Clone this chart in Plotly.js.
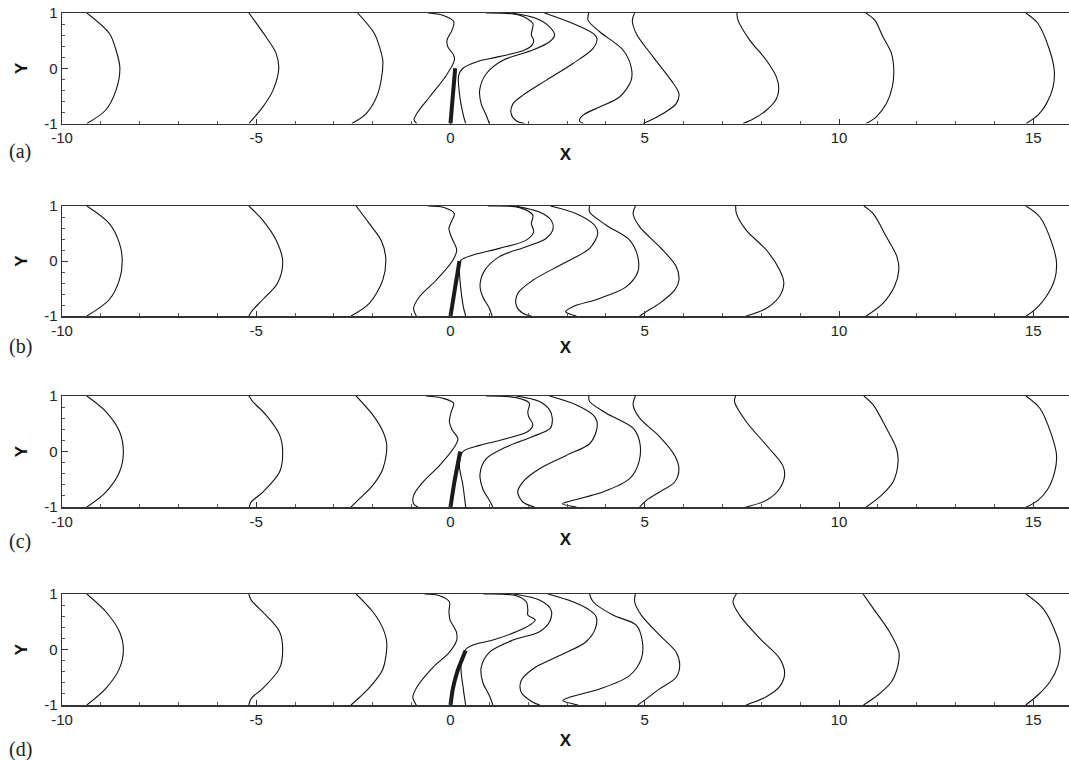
<!DOCTYPE html>
<html>
<head>
<meta charset="utf-8">
<script src="https://cdn.plot.ly/plotly-3.0.1.min.js"></script>
<style>html,body{margin:0;padding:0;background:#fff;}#chart{width:1069px;height:760px;}</style>
</head>
<body>
<div id="chart"></div>
<script>
// ---------- data ----------
const panelLabels = ["(a)", "(b)", "(c)", "(d)"];
const xTickVals = [-10, -5, 0, 5, 10, 15];
const yTickVals = [-1, 0, 1];

// Panel (a) curves
const a_x = [
  [-9.36,-8.78,-8.61,-8.51,-8.61,-8.88,-9.36],
  [-5.19,-4.75,-4.49,-4.42,-4.57,-4.83,-5.19],
  [-2.39,-1.96,-1.83,-1.74,-1.87,-2.17,-2.54],
  [-0.58,-0.2,0.086,0.04,-0.09,-0.07,0.08,0.10,-0.11,-0.54,-0.84,-0.94,-0.87],
  [0.92,1.78,2.12,2.1,2.08,2.14,2.1,1.91,1.26,0.66,0.32,0.21,0.23,0.32,0.39],
  [1.56,2.21,2.55,2.68,2.55,2.12,1.35,0.92,0.75,0.79,0.92,1.0],
  [2.42,3.15,3.67,3.77,3.67,3.15,2.46,1.86,1.61,1.56,1.69,1.91],
  [3.56,3.54,3.84,4.44,4.65,4.65,4.35,3.84,3.41,3.32,3.42],
  [4.74,4.68,4.78,5.21,5.68,5.88,5.81,5.47,5.12,4.95],
  [7.37,7.40,7.70,8.13,8.39,8.45,8.39,8.13,7.79,7.53],
  [10.69,10.92,11.13,11.35,11.41,11.37,11.22,10.96,10.70],
  [14.81,15.12,15.42,15.54,15.51,15.34,15.12,14.82]
];
const a_y = [
  [1,0.63,0.33,0,-0.40,-0.76,-1],
  [1,0.57,0.27,0,-0.40,-0.70,-1],
  [1,0.63,0.39,0.12,-0.46,-0.82,-1],
  [1,0.96,0.84,0.69,0.51,0.39,0.24,0.145,-0.13,-0.52,-0.79,-0.93,-1],
  [1,0.96,0.81,0.69,0.6,0.51,0.42,0.33,0.21,0.115,0.0,-0.13,-0.46,-0.82,-1],
  [1,0.9,0.75,0.6,0.48,0.33,0.145,-0.1,-0.4,-0.64,-0.85,-1],
  [1,0.81,0.63,0.54,0.36,0.085,-0.22,-0.49,-0.64,-0.82,-0.95,-1],
  [1,0.87,0.66,0.33,0.02,-0.22,-0.52,-0.70,-0.85,-0.95,-1],
  [1,0.87,0.63,0.21,-0.22,-0.46,-0.64,-0.82,-0.95,-1],
  [1,0.87,0.51,0.145,-0.16,-0.37,-0.55,-0.76,-0.92,-1],
  [1,0.87,0.57,0.27,-0.04,-0.34,-0.64,-0.88,-1],
  [1,0.81,0.33,-0.04,-0.34,-0.64,-0.85,-1]
];
const a_plate_x = [0, 0.12];
const a_plate_y = [-1, 0];

// Panel (b) curves
const b_x = [
  [-9.36,-8.78,-8.52,-8.45,-8.52,-8.78,-9.36],
  [-5.19,-4.83,-4.49,-4.32,-4.45,-4.83,-5.09,-5.19],
  [-2.43,-2.09,-1.79,-1.67,-1.74,-2.09,-2.56],
  [-0.58,-0.15,0.10,0.02,-0.04,0.02,0.16,0.06,-0.37,-0.80,-0.95,-0.88],
  [0.96,1.78,2.12,2.08,2.14,1.95,1.26,0.58,0.27,0.23,0.27,0.33,0.39],
  [1.65,2.29,2.59,2.64,2.46,1.95,1.26,0.88,0.76,0.83,1.0,1.07],
  [2.57,3.24,3.71,3.79,3.58,2.89,2.12,1.73,1.69,1.86,2.08],
  [3.58,3.58,4.01,4.61,4.82,4.82,4.52,3.84,3.15,2.96,3.24],
  [4.76,4.70,4.87,5.38,5.81,5.88,5.77,5.38,5.04,4.87],
  [7.34,7.36,7.61,8.13,8.47,8.58,8.47,8.13,7.61],
  [10.64,10.88,11.22,11.49,11.54,11.43,11.13,10.70],
  [14.81,15.17,15.51,15.60,15.55,15.34,15.08,14.82]
];
const b_y = [
  [1,0.68,0.32,0,-0.34,-0.70,-1],
  [1,0.74,0.38,0,-0.40,-0.70,-0.89,-1],
  [1,0.68,0.38,0.08,-0.34,-0.77,-1],
  [1,0.97,0.86,0.71,0.59,0.44,0.2,0.015,-0.35,-0.65,-0.86,-1],
  [1,0.97,0.83,0.68,0.53,0.38,0.23,0.11,0.015,-0.17,-0.53,-0.83,-1],
  [1,0.89,0.74,0.59,0.41,0.26,0.08,-0.17,-0.44,-0.65,-0.86,-1],
  [1,0.86,0.65,0.50,0.23,-0.05,-0.35,-0.59,-0.8,-0.95,-1],
  [1,0.89,0.65,0.38,0.08,-0.2,-0.47,-0.68,-0.83,-0.92,-1],
  [1,0.86,0.62,0.26,-0.1,-0.35,-0.53,-0.77,-0.92,-1],
  [1,0.86,0.56,0.2,-0.16,-0.40,-0.64,-0.86,-1],
  [1,0.86,0.44,0.08,-0.16,-0.46,-0.77,-1],
  [1,0.80,0.26,-0.04,-0.34,-0.64,-0.86,-1]
];
const b_plate_x = [0, 0.23];
const b_plate_y = [-1, 0];

// Panel (c) curves
const c_x = [
  [-9.36,-8.87,-8.52,-8.42,-8.52,-8.87,-9.36],
  [-5.19,-5.09,-4.75,-4.40,-4.32,-4.40,-4.83,-5.13,-5.18],
  [-2.43,-2.0,-1.74,-1.64,-1.74,-2.0,-2.34,-2.56],
  [-0.63,-0.2,0.08,0.02,-0.03,0.04,0.19,0.10,-0.28,-0.71,-0.95,-0.95,-0.84],
  [0.92,1.69,2.03,1.99,2.01,2.12,1.99,1.43,0.75,0.32,0.23,0.32,0.39],
  [1.69,2.29,2.55,2.62,2.57,2.12,1.43,0.92,0.76,0.83,1.0,1.09],
  [2.55,3.24,3.67,3.77,3.75,3.58,2.98,2.29,1.86,1.73,1.86,2.16],
  [3.56,3.58,4.01,4.70,4.87,4.85,4.61,3.92,3.15,2.88,3.24],
  [4.76,4.70,4.87,5.38,5.77,5.88,5.77,5.38,5.04,4.87],
  [7.34,7.31,7.61,8.21,8.55,8.60,8.47,8.13,7.61],
  [10.64,10.88,11.22,11.48,11.52,11.39,11.09,10.70],
  [14.81,15.17,15.47,15.60,15.55,15.38,15.12,14.82]
];
const c_y = [
  [1,0.72,0.36,0,-0.37,-0.73,-1],
  [1,0.9,0.66,0.30,0,-0.37,-0.73,-0.91,-1],
  [1,0.66,0.36,0.11,-0.31,-0.61,-0.85,-1],
  [1,0.96,0.87,0.72,0.54,0.39,0.23,0.08,-0.25,-0.55,-0.79,-0.94,-1],
  [1,0.97,0.87,0.72,0.63,0.48,0.36,0.23,0.11,0.0,-0.25,-0.61,-1],
  [1,0.9,0.75,0.60,0.42,0.27,0.08,-0.13,-0.40,-0.67,-0.88,-1],
  [1,0.84,0.66,0.54,0.36,0.14,-0.07,-0.31,-0.55,-0.73,-0.91,-1],
  [1,0.9,0.69,0.42,0.17,-0.19,-0.49,-0.73,-0.88,-0.94,-1],
  [1,0.84,0.60,0.27,-0.07,-0.31,-0.55,-0.73,-0.88,-1],
  [1,0.9,0.54,0.05,-0.25,-0.43,-0.67,-0.88,-1],
  [1,0.84,0.42,0.05,-0.19,-0.55,-0.79,-1],
  [1,0.78,0.30,-0.07,-0.37,-0.67,-0.88,-1]
];
const c_plate_x = [0, 0.10, 0.25];
const c_plate_y = [-1, -0.55, 0];

// Panel (d) curves
const d_x = [
  [-9.36,-8.87,-8.52,-8.42,-8.52,-8.87,-9.36],
  [-5.19,-5.13,-4.75,-4.40,-4.32,-4.40,-4.83,-5.13,-5.19],
  [-2.43,-2.0,-1.74,-1.64,-1.74,-2.04,-2.34,-2.56],
  [-0.67,-0.28,-0.03,-0.04,-0.01,0.15,0.16,-0.03,-0.45,-0.84,-0.97,-0.88],
  [0.85,1.69,1.95,1.99,1.99,2.18,2.04,1.69,1.09,0.58,0.39,0.27,0.33,0.39],
  [1.62,2.29,2.59,2.55,2.29,1.61,1.0,0.79,0.83,1.0,1.09],
  [2.51,3.15,3.58,3.75,3.73,3.49,2.81,2.12,1.82,1.82,2.12,2.30],
  [3.58,3.67,4.18,4.78,4.94,4.91,4.61,3.84,3.06,2.89,3.28],
  [4.76,4.74,4.91,5.38,5.81,5.90,5.81,5.38,5.04,4.82],
  [7.36,7.27,7.44,7.96,8.47,8.60,8.47,8.13,7.61],
  [10.62,10.88,11.30,11.54,11.52,11.35,11.0,10.63],
  [14.81,15.25,15.60,15.69,15.64,15.43,15.12,14.81]
];
const d_y = [
  [1,0.68,0.32,0,-0.34,-0.70,-1],
  [1,0.89,0.62,0.32,0,-0.34,-0.70,-0.88,-1],
  [1,0.68,0.38,0.11,-0.35,-0.65,-0.86,-1],
  [1,0.97,0.86,0.68,0.53,0.32,0.17,-0.05,-0.32,-0.65,-0.86,-1],
  [1,0.97,0.86,0.71,0.62,0.53,0.44,0.32,0.17,0.08,0.0,-0.29,-0.71,-1],
  [1,0.89,0.71,0.50,0.32,0.17,-0.05,-0.32,-0.59,-0.83,-1],
  [1,0.86,0.71,0.59,0.38,0.14,-0.11,-0.35,-0.56,-0.77,-0.95,-1],
  [1,0.86,0.62,0.44,0.14,-0.17,-0.47,-0.71,-0.86,-0.92,-1],
  [1,0.86,0.62,0.26,-0.05,-0.29,-0.50,-0.71,-0.89,-1],
  [1,0.86,0.62,0.2,-0.16,-0.43,-0.67,-0.85,-1],
  [1,0.74,0.32,-0.04,-0.28,-0.58,-0.82,-1],
  [1,0.74,0.26,0.02,-0.28,-0.58,-0.82,-1]
];
const d_plate_x = [0, 0.06, 0.17, 0.39];
const d_plate_y = [-1, -0.71, -0.41, -0.02];

// ---------- build ----------
const W = 1069, H = 760;
const panels = [
  {cx: a_x, cy: a_y, px: a_plate_x, py: a_plate_y, top: 13, bot: 123.5, lab: 152, xt: 3},
  {cx: b_x, cy: b_y, px: b_plate_x, py: b_plate_y, top: 206, bot: 316, lab: 346, xt: 3},
  {cx: c_x, cy: c_y, px: c_plate_x, py: c_plate_y, top: 396, bot: 507, lab: 541, xt: 4},
  {cx: d_x, cy: d_y, px: d_plate_x, py: d_plate_y, top: 594, bot: 705, lab: 749, xt: 7}
];

const SANS = 'Liberation Sans';
const traces = [];
const layout = {
  width: W, height: H,
  margin: {l: 0, r: 0, t: 0, b: 0},
  paper_bgcolor: '#ffffff', plot_bgcolor: '#ffffff',
  showlegend: false,
  font: {family: SANS, size: 15, color: '#222'},
  annotations: []
};

const fontTick = {family: SANS, size: 15, color: '#222'};
const fontTitle = {family: SANS, size: 17, color: '#111', weight: 'bold'};

panels.forEach((p, i) => {
  const n = i === 0 ? '' : String(i + 1);
  const xa = 'x' + n, ya = 'y' + n;
  p.cx.forEach((xs, k) => {
    traces.push({
      type: 'scatter', mode: 'lines', x: xs, y: p.cy[k],
      xaxis: xa, yaxis: ya,
      line: {color: '#111', width: 1.1, shape: 'spline', smoothing: 0.9},
      hoverinfo: 'skip'
    });
  });
  traces.push({
    type: 'scatter', mode: 'lines', x: p.px, y: p.py,
    xaxis: xa, yaxis: ya,
    line: {color: '#1a1a1a', width: 4, shape: 'spline', smoothing: 0.6},
    hoverinfo: 'skip'
  });

  const yd = [1 - p.bot / H, 1 - p.top / H];
  layout['xaxis' + n] = {
    domain: [62 / W, 1], anchor: ya,
    range: [-10, 15.92],
    tickmode: 'array', tickvals: xTickVals, ticktext: xTickVals.map(String),
    ticks: 'inside', ticklen: 5, tickwidth: 1, tickcolor: '#333',
    minor: {dtick: 1, ticks: 'inside', ticklen: 3, tickcolor: '#555', tickwidth: 1},
    showline: true, linecolor: '#333', linewidth: 1.5, mirror: true,
    showgrid: false, zeroline: false,
    tickfont: fontTick,
    title: {text: 'X', font: fontTitle, standoff: p.xt}
  };
  layout['yaxis' + n] = {
    domain: yd, anchor: xa,
    range: [-1, 1],
    tickmode: 'array', tickvals: yTickVals, ticktext: yTickVals.map(String),
    ticks: 'inside', ticklen: 6, tickwidth: 1, tickcolor: '#333',
    minor: {dtick: 0.2, ticks: 'inside', ticklen: 3, tickcolor: '#555', tickwidth: 1},
    showline: true, linecolor: '#333', linewidth: 1.5, mirror: false,
    showgrid: false, zeroline: false,
    tickfont: fontTick,
    title: {text: 'Y', font: fontTitle, standoff: 12}
  };
  layout.annotations.push({
    text: panelLabels[i], xref: 'paper', yref: 'paper',
    x: 20 / W, y: 1 - p.lab / H, xanchor: 'center', yanchor: 'middle',
    showarrow: false,
    font: {family: 'Liberation Serif', size: 20, color: '#222'}
  });
});

Plotly.newPlot('chart', traces, layout, {staticPlot: true, displayModeBar: false});
</script>
</body>
</html>
